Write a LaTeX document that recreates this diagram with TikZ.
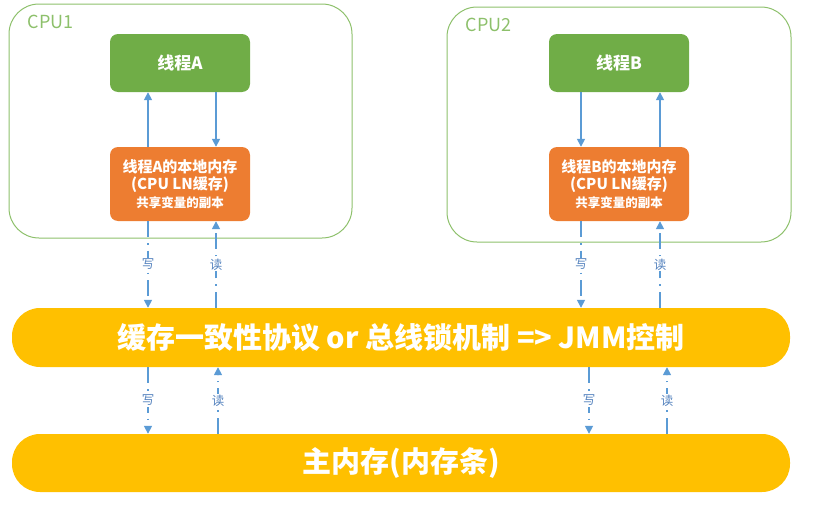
\documentclass[tikz,border=0pt]{standalone}
\usepackage{fontspec}
\usepackage{xcolor}
\usepackage{tikz}
\usetikzlibrary{arrows.meta, positioning}
\setmainfont{Noto Sans CJK SC}
\definecolor{cpucolor}{RGB}{141,192,107}
\definecolor{threadcolor}{RGB}{112,173,71}
\definecolor{cachecolor}{RGB}{237,125,49}
\definecolor{buscolor}{RGB}{255,192,0}
\definecolor{linkcolor}{RGB}{91,155,213}
\definecolor{labelcolor}{RGB}{84,130,190}

\begin{document}
\begin{tikzpicture}[
    x=1pt, y=-1pt,
    >={Triangle[length=8pt, width=8pt]},
    cpu/.style={draw=cpucolor, line width=1pt, rounded corners=30pt, minimum width=343pt, minimum height=234pt},
    cpuname/.style={anchor=west, text=cpucolor, font=\fontsize{18}{20}\selectfont},
    thread/.style={fill=threadcolor, rounded corners=8pt, minimum width=140pt, minimum height=58pt, text=white, font=\fontsize{17}{19}\selectfont\bfseries},
    cache/.style={fill=cachecolor, rounded corners=8pt, minimum width=140pt, minimum height=74pt, text=white, align=center, font=\fontsize{15}{17.5}\selectfont\bfseries},
    bus/.style={fill=buscolor, rounded corners=28pt, minimum width=778pt, text=white, font=\fontsize{29}{31}\selectfont\bfseries},
    link/.style={->, line width=1.6pt, linkcolor},
    rw/.style={->, line width=1.6pt, linkcolor, dash pattern=on 16pt off 6pt on 1.5pt off 6pt},
    rwlabel/.style={fill=white, inner sep=1pt, text=labelcolor, font=\fontsize{12.5}{13}\selectfont},
]
    \useasboundingbox (0,0) rectangle (820,514);

    % CPU1
    \node[cpu] (cpu1) at (180.5, 121) {};
    \node[cpuname] (cpu1name) at (24, 22) {CPU1};
    \node[thread] (ta) at (180, 63) {线程A};
    \node[cache] (la) at (180, 184) {线程A的本地内存\\(CPU LN缓存)\\{\fontsize{12.5}{15}\selectfont 共享变量的副本}};

    \draw[link] ([xshift=-32pt]la.north) -- ([xshift=-32pt]ta.south);
    \draw[link] ([xshift=36pt]ta.south) -- ([xshift=36pt]la.north);

    % CPU2
    \node[cpu, minimum width=344pt, minimum height=235pt] (cpu2) at (619, 124.5) {};
    \node[cpuname] (cpu2name) at (462, 25) {CPU2};
    \node[thread] (tb) at (619, 63) {线程B};
    \node[cache] (lb) at (619, 184) {线程B的本地内存\\(CPU LN缓存)\\{\fontsize{12.5}{15}\selectfont 共享变量的副本}};

    \draw[link] ([xshift=-38pt]tb.south) -- ([xshift=-38pt]lb.north);
    \draw[link] ([xshift=41pt]lb.north) -- ([xshift=41pt]tb.south);

    % bus and main memory
    \node[bus, minimum height=59pt] (bus) at (401, 337.5) {缓存一致性协议 or 总线锁机制 => JMM控制};
    \node[bus, minimum height=58pt] (mem) at (401, 463) {主内存(内存条)};

    % cache <-> bus
    \draw[rw] ([xshift=-32pt]la.south) -- ([xshift=-32pt]la.south |- bus.north) node[rwlabel, pos=0.5] {写};
    \draw[rw] ([xshift=36pt]la.south |- bus.north) -- ([xshift=36pt]la.south) node[rwlabel, pos=0.5] {读};
    \draw[rw] ([xshift=-38pt]lb.south) -- ([xshift=-38pt]lb.south |- bus.north) node[rwlabel, pos=0.5] {写};
    \draw[rw] ([xshift=41pt]lb.south |- bus.north) -- ([xshift=41pt]lb.south) node[rwlabel, pos=0.5] {读};

    % bus <-> main memory
    \draw[rw] ([xshift=-32pt]la.south |- bus.south) -- ([xshift=-32pt]la.south |- mem.north) node[rwlabel, pos=0.5] {写};
    \draw[rw] ([xshift=38pt]la.south |- mem.north) -- ([xshift=38pt]la.south |- bus.south) node[rwlabel, pos=0.5] {读};
    \draw[rw] ([xshift=-30pt]lb.south |- bus.south) -- ([xshift=-30pt]lb.south |- mem.north) node[rwlabel, pos=0.5] {写};
    \draw[rw] ([xshift=48pt]lb.south |- mem.north) -- ([xshift=48pt]lb.south |- bus.south) node[rwlabel, pos=0.5] {读};
\end{tikzpicture}
\end{document}
